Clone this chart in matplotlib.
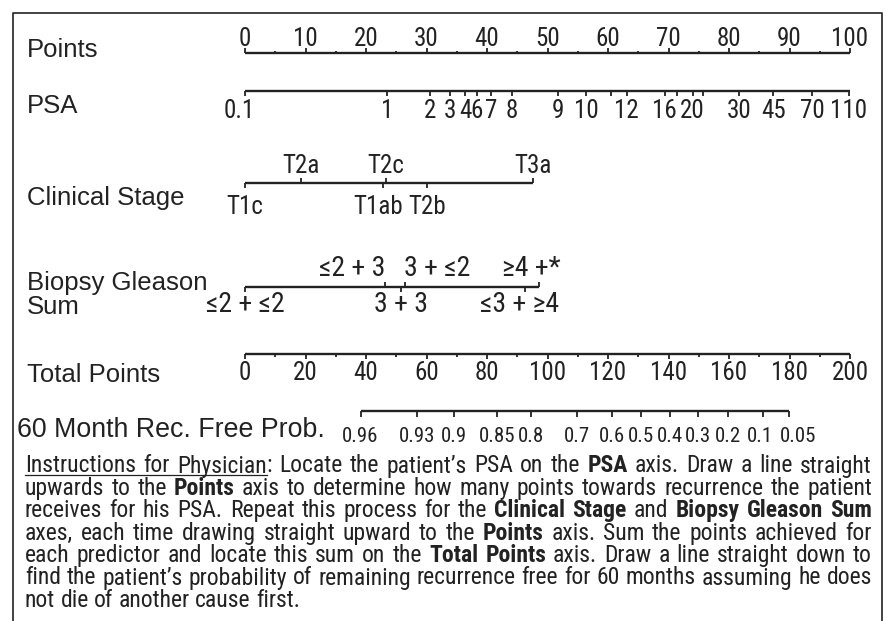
import re
import numpy as np
import matplotlib
matplotlib.use('Agg')
import matplotlib.pyplot as plt
from matplotlib import font_manager
from matplotlib.font_manager import FontProperties

W, H = 887, 621

# --- nomogram scales (positions in points, 0-100) ---
points_major = np.arange(0, 101, 10)
points_minor = np.arange(5, 100, 10)

psa_labels = ['0.1', '1', '2', '3', '4', '6', '7', '8', '9', '10', '12', '16', '20', '30', '45', '70', '110']
psa_points = [0, 23.5, 30.6, 33.9, 36.4, 38.3, 40.7, 44.1, 51.7, 56.4, 63.1, 69.4, 74.0, 81.7, 87.3, 93.7, 99.8]
psa_minor = [60.5, 71.4, 75.7]

stage_labels = ['T1c', 'T2a', 'T2c', 'T1ab', 'T2b', 'T3a']
stage_points = [0, 9.3, 23.3, 22.8, 30.1, 47.6]
stage_above = [False, True, True, False, False, True]

gleason_labels = ['≤2 + ≤2', '≤2 + 3', '3 + 3', '3 + ≤2', '≤3 + ≥4', '≥4 +*']
gleason_points = [0, 23.1, 25.8, 26.4, 46.3, 48.6]
gleason_above = [False, True, False, True, False, True]
gleason_ha = ['center', 'right', 'center', 'left', 'center', 'center']

total_major = np.arange(0, 201, 20)
total_minor = np.arange(10, 200, 20)

prob_labels = ['0.96', '0.93', '0.9', '0.85', '0.8', '0.7', '0.6', '0.5', '0.4', '0.3', '0.2', '0.1', '0.05']
prob_total = [38.2, 57.0, 69.1, 83.2, 94.5, 109.7, 121.3, 131.0, 140.5, 149.8, 159.6, 171.1, 179.8]

row_names = ['Points', 'PSA', 'Clinical Stage', 'Biopsy Gleason\nSum', 'Total Points']

instructions = [
    "__Instructions for Physician__: Locate the patient’s PSA on the **PSA** axis. Draw a line straight",
    "upwards to the **Points** axis to determine how many points towards recurrence the patient",
    "receives for his PSA. Repeat this process for the **Clinical Stage** and **Biopsy Gleason Sum**",
    "axes, each time drawing straight upward to the **Points** axis. Sum the points achieved for",
    "each predictor and locate this sum on the **Total Points** axis. Draw a line straight down to",
    "find the patient’s probability of remaining recurrence free for 60 months assuming he does",
    "not die of another cause first.",
]


def find_narrow(bold):
    # look for an installed condensed sans face; fall back to plain Liberation Sans
    prefs = ['Liberation Sans Narrow', 'Roboto Condensed', 'Open Sans Condensed',
             'Noto Sans', 'DejaVu Sans', 'Roboto', 'Open Sans', 'Arimo']
    found = {}
    for f in font_manager.fontManager.ttflist:
        fn = f.fname.lower()
        if f.style != 'normal' or 'mono' in fn or 'serif' in fn or 'extra' in fn or 'semi' in fn:
            continue
        if not ('narrow' in fn or 'condensed' in fn or str(f.stretch) == 'condensed'):
            continue
        w = f.weight if isinstance(f.weight, int) else font_manager.weight_dict.get(f.weight, 400)
        if (bold and w != 700) or (not bold and w != 400):
            continue
        for p in prefs:
            if f.name.startswith(p) and p not in found:
                found[p] = f.fname
    for p in prefs:
        if p in found:
            return found[p]
    return None


narrow_file = find_narrow(False)
narrow_bold_file = find_narrow(True)


def nfont(size, bold=False):
    path = narrow_bold_file if bold else narrow_file
    if path:
        return FontProperties(fname=path, size=size)
    return FontProperties(family='Liberation Sans', size=size * 0.85,
                          weight='bold' if bold else 'normal')


def pfont(size):
    return FontProperties(family='Liberation Sans', size=size)


ink = '#222222'

fig = plt.figure(figsize=(W / 100, H / 100), dpi=100)
ax = fig.add_axes([0, 0, 1, 1])
ax.set_xlim(0, W)
ax.set_ylim(H, 0)
ax.axis('off')

nom = fig.add_axes([245 / W, 0, 605 / W, 1])
nom.set_xlim(0, 100)
nom.set_ylim(H, 0)
nom.axis('off')
px = 100 / 605  # one pixel in points units

# frame, open at the bottom
ax.plot([13, 13, 882, 882], [H, 13, 13, H], color='#333333', lw=1.3, clip_on=False)


def hline(x0, x1, y):
    nom.plot([x0, x1], [y, y], color=ink, lw=1.7, solid_capstyle='butt', clip_on=False)


def tick(xs, y, length):
    nom.vlines(xs, y, y + length, color=ink, lw=1.3, clip_on=False)


def lab(x, y, s, size=18, ha='center'):
    nom.text(x, y, s, ha=ha, va='center', fontproperties=nfont(size), color=ink)


# Points
y = 53
hline(0, 100, y)
tick(points_major, y, -5)
tick(points_minor, y, -2)
for v in points_major:
    lab(v, y - 14, str(v))

# PSA
y = 91
hline(0, 100, y)
tick(psa_points, y, 5)
tick(psa_minor, y, 5)
for s, v in zip(psa_labels, psa_points):
    lab(v - (6 * px if s == '0.1' else 0), y + 20, s)

# Clinical stage
y = 183
hline(min(stage_points), max(stage_points), y)
for s, v, up in zip(stage_labels, stage_points, stage_above):
    tick([v], y, -5 if up else 5)
    nudge = -5 * px if s == 'T1ab' else 0
    lab(v + nudge, y - 17 if up else y + 24, s)

# Biopsy Gleason sum
y = 287
hline(min(gleason_points), max(gleason_points), y)
for s, v, up, ha in zip(gleason_labels, gleason_points, gleason_above, gleason_ha):
    tick([v], y, -5 if up else 5)
    dx = {'right': px, 'left': -px, 'center': 0}[ha]
    if s.endswith('*'):
        dx = -8 * px
    elif s.startswith('≤3'):
        dx = -6 * px
    lab(v + dx, y - 19 if up else y + 18, s, size=20, ha=ha)

# Total points (0-200 drawn on the same width)
y = 354
hline(0, 100, y)
tick(total_major / 2, y, 5)
tick(total_minor / 2, y, 3)
for v in total_major:
    lab(v / 2, y + 19, str(v))

# 60 month recurrence free probability
y = 411
pt = np.array(prob_total) / 2
hline(pt[0], pt[-1], y)
tick(pt, y, 6)
shift = {'0.1': -3, '0.05': 9}
for s, v in zip(prob_labels, pt):
    lab(v + shift.get(s, 0) * px, y + 25, s, size=15)

# row names
row_y = [50, 106, 198, 295, 375]
for s, yy in zip(row_names, row_y):
    ax.text(27, yy, s, ha='left', va='center', fontproperties=pfont(18.5), color=ink,
            linespacing=1.0)
ax.text(17, 430, '60 Month Rec. Free Prob.', ha='left', va='center',
        fontproperties=pfont(19.3), color=ink)

# instructions, justified between two margins
renderer = fig.canvas.get_renderer()
left, right = 25, 872


def parse(line):
    words = [[]]
    for m in re.finditer(r'\*\*(.+?)\*\*|__(.+?)__|([^*_]+)', line):
        if m.group(1):
            txt, sty = m.group(1), 'bold'
        elif m.group(2):
            txt, sty = m.group(2), 'under'
        else:
            txt, sty = m.group(3), 'normal'
        for i, p in enumerate(txt.split(' ')):
            if i > 0:
                words.append([])
            if p:
                words[-1].append((p, sty))
    return [w for w in words if w]


def width(s, sty, fs):
    t = ax.text(0, 0, s, fontproperties=nfont(fs, sty == 'bold'))
    w = t.get_window_extent(renderer).width
    t.remove()
    return w


# size the text so the widest full line just fills the margins
base = 15
space0 = width('a a', 'normal', base) - width('aa', 'normal', base)
natural = []
for line in instructions[:-1]:
    words = parse(line)
    natural.append(sum(width(s, st, base) for w in words for s, st in w) + space0 * (len(words) - 1))
fs = base * (right - left) / max(natural) * 0.995

space = width('a a', 'normal', fs) - width('aa', 'normal', fs)
for i, line in enumerate(instructions):
    yy = 466 + i * 22.4
    words = parse(line)
    wws = [sum(width(s, st, fs) for s, st in w) for w in words]
    if i < len(instructions) - 1:
        gap = (right - left - sum(wws)) / (len(words) - 1)
    else:
        gap = space
    x = left
    u0 = u1 = None
    for w in words:
        for s, st in w:
            sw = width(s, st, fs)
            ax.text(x, yy, s, ha='left', va='center', fontproperties=nfont(fs, st == 'bold'),
                    color=ink)
            if st == 'under':
                u0 = x if u0 is None else u0
                u1 = x + sw
            x += sw
        x += gap
    if u0 is not None:
        ax.plot([u0, u1], [yy + 9, yy + 9], color=ink, lw=0.9)

fig.savefig('out.png', dpi=100)
